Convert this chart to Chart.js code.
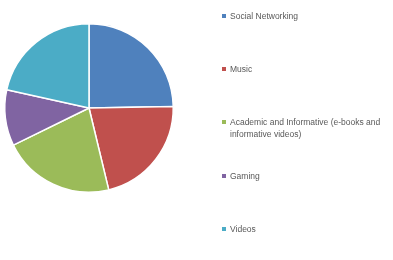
<!DOCTYPE html>
<html>
<head>
<meta charset="utf-8">
<script src="https://cdn.jsdelivr.net/npm/chart.js@4/dist/chart.umd.min.js"></script>
<style>
  html, body { margin: 0; padding: 0; background: #fff; }
  #wrap { position: relative; width: 393px; height: 260px; overflow: hidden; }
  #pieBox { position: absolute; left: 0; top: 0; width: 178px; height: 216px; }
  #legend { position: absolute; left: 0; top: 0; width: 393px; height: 260px; font-family: "Liberation Sans", Arial, sans-serif; font-size: 8.5px; color: #595959; }
  .item { position: absolute; left: 222px; line-height: 12.3px; }
  .item .box { position: absolute; left: 0; top: 4px; width: 4px; height: 4px; }
  .item .txt { margin-left: 8px; white-space: nowrap; }
</style>
</head>
<body>
<div id="wrap">
  <div id="pieBox"><canvas id="pie"></canvas></div>
  <div id="legend"></div>
</div>
<script>
var labels = ['Social Networking', 'Music', 'Academic and Informative (e-books and\ninformative videos)', 'Gaming', 'Videos'];
var values = [23, 20, 20, 10, 20];
var colors = ['#4F81BD', '#C0504D', '#9BBB59', '#8064A2', '#4BACC6'];
var legendTops = [10, 63, 116, 170, 223];

var pieChart = new Chart(document.getElementById('pie').getContext('2d'), {
    type: 'pie',
    data: {
        labels: labels,
        datasets: [{
            data: values,
            backgroundColor: colors,
            borderColor: '#ffffff',
            borderWidth: 1.5
        }]
    },
    options: {
        responsive: true,
        maintainAspectRatio: false,
        animation: false,
        layout: { padding: 4 },
        plugins: {
            legend: { display: false },
            tooltip: { enabled: false }
        }
    }
});

// legend on the right, built from the same arrays
var legendEl = document.getElementById('legend');
for (var i = 0; i < labels.length; i++) {
    var item = document.createElement('div');
    item.className = 'item';
    item.style.top = legendTops[i] + 'px';
    var box = document.createElement('span');
    box.className = 'box';
    box.style.background = colors[i];
    item.appendChild(box);
    var txt = document.createElement('div');
    txt.className = 'txt';
    txt.innerHTML = labels[i].replace('\n', '<br>');
    item.appendChild(txt);
    legendEl.appendChild(item);
}
</script>
</body>
</html>
